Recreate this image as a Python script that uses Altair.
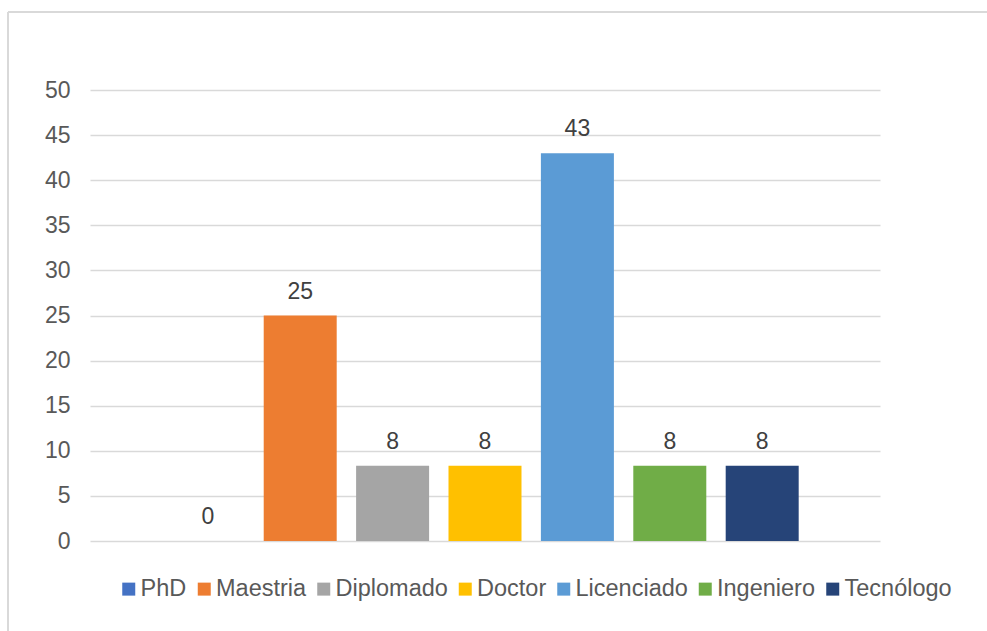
import altair as alt
import pandas as pd

categories = ["PhD", "Maestria", "Diplomado", "Doctor", "Licenciado", "Ingeniero", "Tecnólogo"]
values = [0, 25, 8.33, 8.33, 43, 8.33, 8.33]
colors = ["#4472C4", "#ED7D31", "#A5A5A5", "#FFC000", "#5B9BD5", "#70AD47", "#264478"]
y_ticks = [0, 5, 10, 15, 20, 25, 30, 35, 40, 45, 50]

df = pd.DataFrame({"cat": categories, "val": values})

FONT = "Liberation Sans"

x_enc = alt.X("cat:N", sort=categories, axis=None,
              scale=alt.Scale(paddingInner=0.21, paddingOuter=0.88))

bars = alt.Chart(df).mark_bar().encode(
    x=x_enc,
    y=alt.Y("val:Q", scale=alt.Scale(domain=[0, 50]),
            axis=alt.Axis(values=y_ticks, title=None, domain=False, ticks=False,
                          labelPadding=20, labelFontSize=23, labelColor="#595959",
                          labelFont=FONT, gridColor="#d9d9d9", gridWidth=1.4)),
    color=alt.Color("cat:N", scale=alt.Scale(domain=categories, range=colors),
                    legend=alt.Legend(title=None, orient="none", direction="horizontal",
                                      columns=7, legendX=27, legendY=487,
                                      symbolType="square", symbolSize=169,
                                      symbolStrokeWidth=0, labelFontSize=23.5,
                                      labelFont=FONT, labelColor="#595959",
                                      labelOffset=0, columnPadding=5.5)),
)

labels = alt.Chart(df).mark_text(dy=-17, baseline="alphabetic", fontSize=23,
                                  font=FONT, color="#404040").encode(
    x=x_enc,
    y="val:Q",
    text=alt.Text("val:Q", format=".0f"),
)

border_top = alt.Chart(df).mark_rule(color="#d9d9d9", strokeWidth=1.5).encode(
    x=alt.value(-82), x2=alt.value(900), y=alt.value(-78))
border_left = alt.Chart(df).mark_rule(color="#d9d9d9", strokeWidth=1.5).encode(
    x=alt.value(-82), y=alt.value(-78), y2=alt.value(541))

chart = alt.layer(border_top, border_left, bars, labels).properties(
    width=790, height=451,
    autosize=alt.AutoSizeParams(type="none"),
    padding={"left": 90, "top": 90, "right": 107, "bottom": 90},
).configure_view(stroke=None)

chart.save("out.html", embed_options={"renderer": "svg", "actions": False})
